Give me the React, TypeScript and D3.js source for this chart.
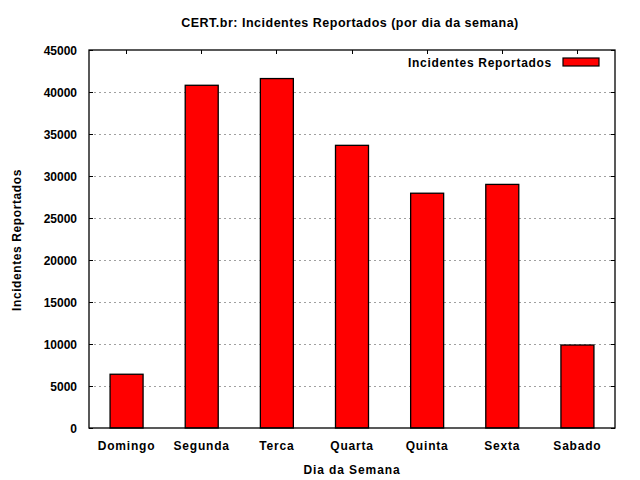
import React from "react";
import * as d3 from "d3";

const days = ["Domingo", "Segunda", "Terca", "Quarta", "Quinta", "Sexta", "Sabado"];
const incidents = [6400, 40800, 41600, 33650, 27950, 29000, 9880];
const yTicks = [0, 5000, 10000, 15000, 20000, 25000, 30000, 35000, 40000, 45000];

const W = 640, H = 480;
const left = 89, right = 615, top = 50, bottom = 428;
const font = "'Liberation Sans', Arial, sans-serif";

export default function App() {
  const x = d3.scaleBand<string>().domain(days).range([left, right]).paddingInner(0).paddingOuter(0);
  const y = d3.scaleLinear().domain([0, 45000]).range([bottom, top]);
  const bw = 33;
  return (
    <svg width={W} height={H} style={{ position: "absolute", left: 0, top: 0, background: "#fff" }} fontFamily={font} fontWeight="bold" fontSize={12}>
      <rect x={0} y={0} width={W} height={H} fill="#fff" />
      <text x={350} y={27} textAnchor="middle" fontSize={12.5} letterSpacing={0.5}>CERT.br: Incidentes Reportados (por dia da semana)</text>
      {yTicks.map((t) => (
        <g key={t}>
          {t > 0 && t < 45000 && (
            <line x1={left} x2={right} y1={y(t)} y2={y(t)} stroke="#a0a0a0" strokeWidth={1} strokeDasharray="2,3" shapeRendering="crispEdges" />
          )}
          <line x1={left} x2={left + 4} y1={y(t)} y2={y(t)} stroke="#000" strokeWidth={1} shapeRendering="crispEdges" />
          <line x1={right - 4} x2={right} y1={y(t)} y2={y(t)} stroke="#000" strokeWidth={1} shapeRendering="crispEdges" />
          <text x={77} y={y(t) + 4.5} textAnchor="end">{t}</text>
        </g>
      ))}
      {days.map((d) => {
        const cx = (x(d) as number) + x.bandwidth() / 2;
        return (
          <g key={d}>
            <line x1={cx} x2={cx} y1={top} y2={top + 4} stroke="#000" shapeRendering="crispEdges" />
            <line x1={cx} x2={cx} y1={bottom} y2={bottom - 4} stroke="#000" shapeRendering="crispEdges" />
            <text x={cx} y={450} textAnchor="middle" letterSpacing={0.8}>{d}</text>
          </g>
        );
      })}
      {days.map((d, i) => {
        const cx = (x(d) as number) + x.bandwidth() / 2;
        return (
          <rect key={d} x={cx - bw / 2} y={y(incidents[i])} width={bw} height={bottom - y(incidents[i])} fill="#ff0000" stroke="#000" strokeWidth={1.3} />
        );
      })}
      <rect x={left} y={top} width={right - left} height={bottom - top} fill="none" stroke="#000" strokeWidth={1.3} />
      <text x={552} y={67} textAnchor="end" letterSpacing={0.7}>Incidentes Reportados</text>
      <rect x={563} y={58} width={36} height={8} fill="#ff0000" stroke="#000" strokeWidth={1.2} />
      <text x={352} y={474} textAnchor="middle" letterSpacing={0.9}>Dia da Semana</text>
      <text transform={`translate(21,240) rotate(-90)`} textAnchor="middle" letterSpacing={0.6}>Incidentes Reportados</text>
    </svg>
  );
}
